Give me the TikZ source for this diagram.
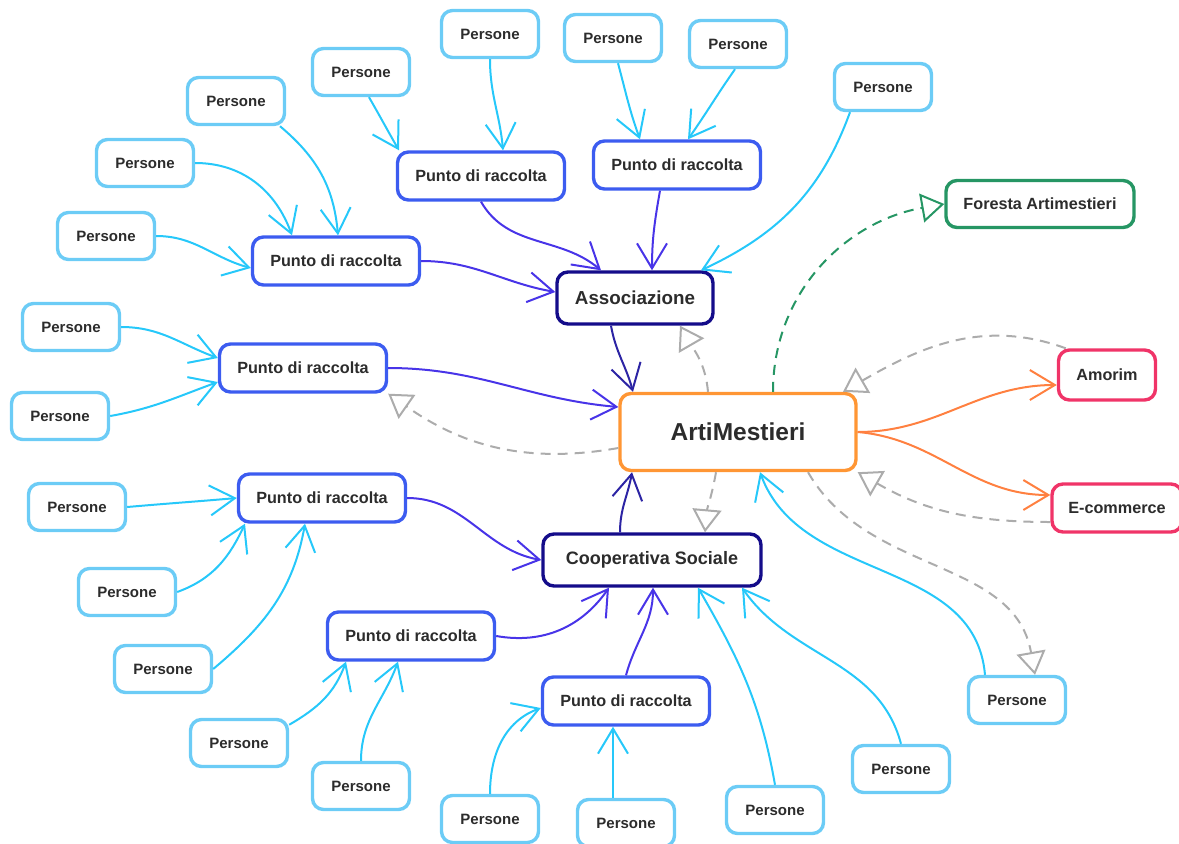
\documentclass[tikz,border=0pt]{standalone}
\usepackage{fontspec}
\setmainfont{Liberation Sans}
\usetikzlibrary{arrows.meta}

\definecolor{persone}{RGB}{108,204,246}
\definecolor{personeline}{RGB}{38,200,250}
\definecolor{punto}{RGB}{60,92,240}
\definecolor{puntoline}{RGB}{72,52,232}
\definecolor{ente}{RGB}{20,12,138}
\definecolor{enteline}{RGB}{44,36,164}
\definecolor{arti}{RGB}{255,150,52}
\definecolor{artiline}{RGB}{255,128,64}
\definecolor{foresta}{RGB}{38,150,100}
\definecolor{partner}{RGB}{240,52,104}
\definecolor{legame}{RGB}{172,172,172}
\definecolor{testo}{RGB}{44,44,44}

\begin{document}
\begin{tikzpicture}[x=1pt,y=-1pt,
    box/.style={rectangle, rounded corners=11pt, line width=3.4pt, fill=white, text=testo, inner sep=0pt},
    pers/.style={box, draw=persone, minimum width=97pt, minimum height=47pt, font=\fontsize{15}{18}\selectfont\bfseries},
    raccolta/.style={box, draw=punto, minimum width=167pt, minimum height=48pt, font=\fontsize{16.2}{19}\selectfont\bfseries},
    ente/.style={box, draw=ente, minimum height=52pt, font=\fontsize{18.8}{22}\selectfont\bfseries},
    partnerbox/.style={box, draw=partner, minimum height=48pt, font=\fontsize{16.2}{19}\selectfont\bfseries},
    barb/.tip={Straight Barb[length=25pt,width=30pt]},
    hollow/.tip={Triangle[open,length=23pt,width=29pt]},
    pflow/.style={draw=personeline, line width=2pt, -barb},
    rflow/.style={draw=puntoline, line width=2pt, -barb},
    eflow/.style={draw=enteline, line width=2pt, -barb},
    oflow/.style={draw=artiline, line width=2pt, -barb},
    dep/.style={draw=legame, line width=2pt, dash pattern=on 10pt off 7pt, -hollow},
    fdep/.style={draw=foresta, line width=2pt, dash pattern=on 10pt off 7pt, -hollow}
  ]
  \useasboundingbox (0,0) rectangle (1179,844);

  % centro
  \node[box, draw=arti, minimum width=236pt, minimum height=77pt, font=\fontsize{24.5}{28}\selectfont\bfseries] (arti) at (738,432) {ArtiMestieri};
  \node[ente, minimum width=156pt] (asso) at (635,298) {Associazione};
  \node[ente, minimum width=218pt, font=\fontsize{18}{21}\selectfont\bfseries] (coop) at (652,560) {Cooperativa Sociale};
  \node[box, draw=foresta, minimum width=188pt, minimum height=47pt, font=\fontsize{16.2}{19}\selectfont\bfseries] (fore) at (1040,204) {Foresta Artimestieri};
  \node[partnerbox, minimum width=97pt, minimum height=50pt] (amor) at (1107,375) {Amorim};
  \node[partnerbox, minimum width=130pt] (ecom) at (1117,508) {E-commerce};

  % punti di raccolta
  \node[raccolta] (r1) at (481,176) {Punto di raccolta};
  \node[raccolta] (r2) at (677,165) {Punto di raccolta};
  \node[raccolta] (r3) at (336,261) {Punto di raccolta};
  \node[raccolta] (r4) at (303,368) {Punto di raccolta};
  \node[raccolta] (r5) at (322,498) {Punto di raccolta};
  \node[raccolta] (r6) at (411,636) {Punto di raccolta};
  \node[raccolta] (r7) at (626,701) {Punto di raccolta};

  % persone
  \node[pers] (p1) at (490,34) {Persone};
  \node[pers] (p2) at (613,38) {Persone};
  \node[pers] (p3) at (738,44) {Persone};
  \node[pers] (p4) at (883,87) {Persone};
  \node[pers] (p5) at (361,72) {Persone};
  \node[pers] (p6) at (236,101) {Persone};
  \node[pers] (p7) at (145,163) {Persone};
  \node[pers] (p8) at (106,236) {Persone};
  \node[pers] (p9) at (71,327) {Persone};
  \node[pers] (p10) at (60,416) {Persone};
  \node[pers] (p11) at (77,507) {Persone};
  \node[pers] (p12) at (127,592) {Persone};
  \node[pers] (p13) at (163,669) {Persone};
  \node[pers] (p14) at (239,743) {Persone};
  \node[pers] (p15) at (361,786) {Persone};
  \node[pers] (p16) at (490,819) {Persone};
  \node[pers] (p17) at (626,823) {Persone};
  \node[pers] (p18) at (775,810) {Persone};
  \node[pers] (p19) at (901,769) {Persone};
  \node[pers] (p20) at (1017,700) {Persone};

  % verso l'associazione
  \draw[pflow] (p1.south) to[out=-90,in=95] ([xshift=22pt]r1.north);
  \draw[pflow] ([xshift=8pt]p5.south) to[out=-60,in=120] ([xshift=-82pt]r1.north);
  \draw[pflow] ([xshift=5pt]p2.south) to[out=-75,in=110] ([xshift=-37pt]r2.north);
  \draw[pflow] ([xshift=-3pt]p3.south) to[out=-125,in=55] ([xshift=11pt]r2.north);
  \draw[pflow] ([xshift=-33pt]p4.south) to[out=-110,in=25] ([xshift=66pt]asso.north);
  \draw[pflow] ([xshift=44pt]p6.south) to[out=-40,in=95] ([xshift=2pt]r3.north);
  \draw[pflow] (p7.east) to[out=0,in=110] ([xshift=-44pt]r3.north);
  \draw[pflow] (p8.east) to[out=0,in=165] ([yshift=-7pt]r3.west);
  \draw[rflow] (r1.south) to[out=-60,in=140] ([xshift=-34pt]asso.north);
  \draw[rflow] ([xshift=-17pt]r2.south) to[out=-100,in=90] ([xshift=17pt]asso.north);
  \draw[rflow] (r3.east) to[out=0,in=170] ([yshift=6pt]asso.west);
  \draw[eflow] ([xshift=-24pt]asso.south) to[out=-80,in=105] ([xshift=-105pt]arti.north);

  % verso ArtiMestieri
  \draw[pflow] (p9.east) to[out=0,in=160] ([yshift=10pt]r4.west);
  \draw[pflow] (p10.east) to[out=10,in=200] ([yshift=-14pt]r4.west);
  \draw[rflow] (r4.east) to[out=0,in=175] ([yshift=25pt]arti.west);
  \draw[pflow] ([xshift=-32pt]p20.north) to[out=95,in=-70] ([xshift=22pt]arti.south);
  \draw[eflow] ([xshift=-32pt]coop.north) to[out=90,in=-100] ([xshift=-106pt]arti.south);

  % dipendenze
  \draw[dep] ([yshift=-16pt]arti.west) to[out=190,in=-35] (r4.south east);
  \draw[dep] ([xshift=-30pt]arti.north) to[out=95,in=-60] ([xshift=45pt]asso.south);
  \draw[fdep] ([xshift=35pt]arti.north) to[out=90,in=190] (fore.west);
  \draw[dep] ([xshift=9pt]amor.north west) to[out=160,in=30] ([xshift=105pt]arti.north);
  \draw[dep] ([yshift=-14pt]ecom.west) to[out=180,in=-30] (arti.south east);
  \draw[dep] ([xshift=70pt]arti.south) to[out=-60,in=100] ([xshift=18pt]p20.north);
  \draw[dep] ([xshift=-22pt]arti.south) to[out=-100,in=85] ([xshift=53pt]coop.north);

  % partner
  \draw[oflow] (arti.east) to[out=0,in=180] ([yshift=-10pt]amor.west);
  \draw[oflow] (arti.east) to[out=-5,in=180] ([yshift=13pt]ecom.west);

  % verso la cooperativa
  \draw[pflow] (p11.east) to[out=5,in=185] (r5.west);
  \draw[pflow] (p12.east) to[out=20,in=-115] ([xshift=-77pt]r5.south);
  \draw[pflow] (p13.east) to[out=40,in=-100] ([xshift=-17pt]r5.south);
  \draw[rflow] (r5.east) to[out=0,in=170] (coop.west);
  \draw[pflow] (p14.20) to[out=30,in=-110] ([xshift=-65pt]r6.south);
  \draw[pflow] (p15.north) to[out=90,in=-110] ([xshift=-13pt]r6.south);
  \draw[rflow] (r6.east) to[out=-10,in=-125] ([xshift=-43pt]coop.south);
  \draw[pflow] (p16.north) to[out=90,in=200] ([yshift=-7pt]r7.west);
  \draw[pflow] ([xshift=-13pt]p17.north) -- ([xshift=-13pt]r7.south);
  \draw[rflow] (r7.north) to[out=75,in=-90] ([xshift=1pt]coop.south);
  \draw[pflow] (p18.north) to[out=100,in=-60] ([xshift=46pt]coop.south);
  \draw[pflow] (p19.north) to[out=105,in=-55] ([xshift=90pt]coop.south);
\end{tikzpicture}
\end{document}
